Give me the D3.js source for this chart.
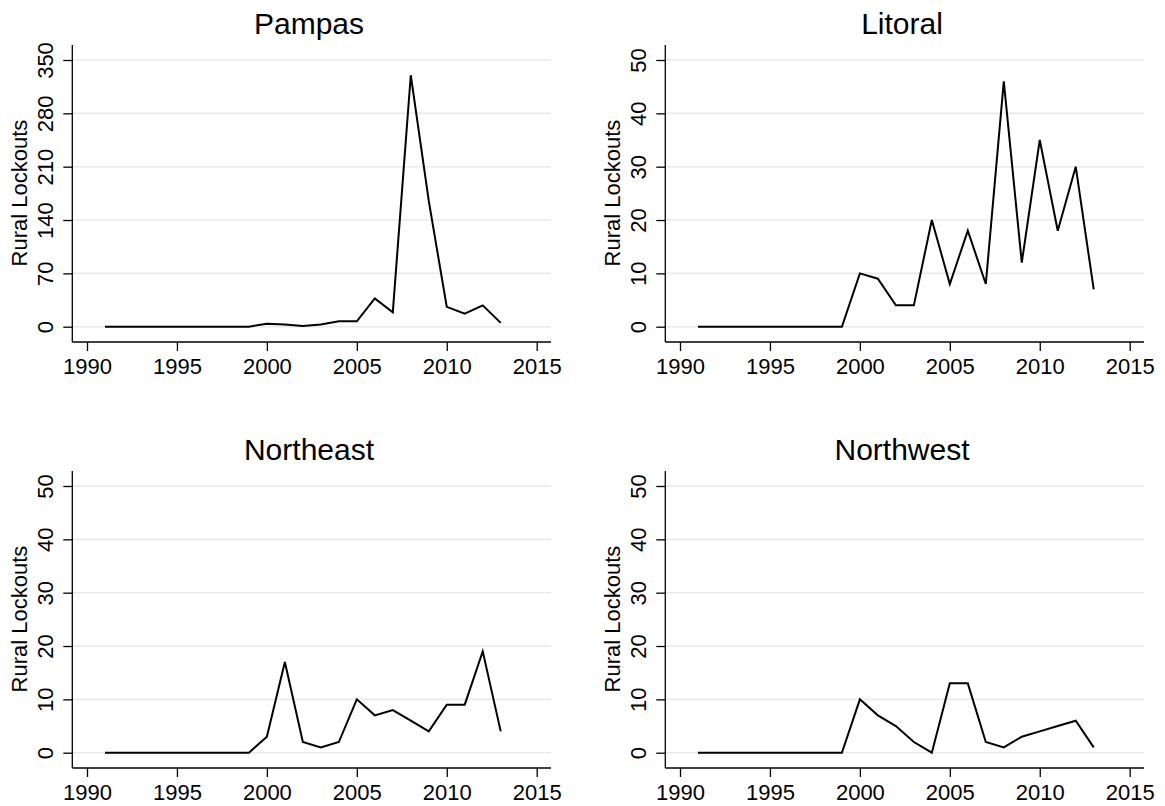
<!DOCTYPE html>
<meta charset="utf-8">
<style>
body { margin: 0; background: #fff; }
svg text { font-family: "Liberation Sans", Arial, Helvetica, sans-serif; fill: #000; }
</style>
<body>
<script src="https://d3js.org/d3.v7.min.js"></script>
<script>

var width = 1165,
    height = 806;

// data
var years = [1991, 1992, 1993, 1994, 1995, 1996, 1997, 1998, 1999, 2000, 2001, 2002,
             2003, 2004, 2005, 2006, 2007, 2008, 2009, 2010, 2011, 2012, 2013];
var pampas    = [0, 0, 0, 0, 0, 0, 0, 0, 0, 4, 3, 1, 3, 7, 7, 37, 19, 330, 165, 26, 17, 28, 5];
var litoral   = [0, 0, 0, 0, 0, 0, 0, 0, 0, 10, 9, 4, 4, 20, 8, 18, 8, 46, 12, 35, 18, 30, 7];
var northeast = [0, 0, 0, 0, 0, 0, 0, 0, 0, 3, 17, 2, 1, 2, 10, 7, 8, 6, 4, 9, 9, 19, 4];
var northwest = [0, 0, 0, 0, 0, 0, 0, 0, 0, 10, 7, 5, 2, 0, 13, 13, 2, 1, 3, 4, 5, 6, 1];

var regionNames = ["Pampas", "Litoral", "Northeast", "Northwest"];
var regionValues = [pampas, litoral, northeast, northwest];
var pampasTicks = [0, 70, 140, 210, 280, 350];
var smallTicks = [0, 10, 20, 30, 40, 50];
var yearTicks = [1990, 1995, 2000, 2005, 2010, 2015];
var yTitle = "Rural Lockouts";

var svg = d3.select("body").append("svg")
    .attr("width", width)
    .attr("height", height);

// panel geometry
var offX = [0, 593, 0, 593],
    offY = [0, 0, 426, 426];
var left = 72.3, right = 551, axisTop = 45, axisBottom = 342;

var x = d3.scaleLinear()
    .domain([1990, 2015])
    .range([87, 536.7]);

regionNames.forEach(function(name, i) {
  var ticks = i == 0 ? pampasTicks : smallTicks;
  var y = d3.scaleLinear()
      .domain([0, ticks[ticks.length - 1]])
      .range([326.7, 60]);

  var g = svg.append("g")
      .attr("transform", "translate(" + offX[i] + "," + offY[i] + ")");

  // gridlines
  g.append("g").selectAll("line")
      .data(ticks)
      .enter().append("line")
      .attr("x1", left).attr("x2", right)
      .attr("y1", function(d) { return y(d); })
      .attr("y2", function(d) { return y(d); })
      .style("stroke", "#eaeaea")
      .style("stroke-width", 1.6);

  // y axis
  var ya = g.append("g")
      .attr("transform", "translate(" + left + ",0)")
      .call(d3.axisLeft(y).tickValues(ticks).tickSize(9).tickSizeOuter(0));
  ya.select(".domain").remove();
  ya.selectAll("line").style("stroke", "#000").style("stroke-width", 1.3);
  ya.selectAll("text")
      .attr("x", null).attr("dy", null)
      .attr("transform", "translate(-19,0) rotate(-90)")
      .style("text-anchor", "middle")
      .style("font-size", "22px");
  g.append("line")
      .attr("x1", left).attr("x2", left)
      .attr("y1", axisTop).attr("y2", axisBottom)
      .style("stroke", "#000").style("stroke-width", 1.3);

  // x axis
  var xa = g.append("g")
      .attr("transform", "translate(0," + axisBottom + ")")
      .call(d3.axisBottom(x).tickValues(yearTicks).tickFormat(d3.format("d")).tickSize(9).tickSizeOuter(0));
  xa.select(".domain").remove();
  xa.selectAll("line").style("stroke", "#000").style("stroke-width", 1.3);
  xa.selectAll("text")
      .attr("y", 32).attr("dy", null)
      .style("font-size", "22px");
  g.append("line")
      .attr("x1", left).attr("x2", right)
      .attr("y1", axisBottom).attr("y2", axisBottom)
      .style("stroke", "#000").style("stroke-width", 1.3);

  // the series
  var line = d3.line()
      .x(function(d, j) { return x(years[j]); })
      .y(function(d) { return y(d); });
  g.append("path")
      .datum(regionValues[i])
      .attr("d", line)
      .style("fill", "none")
      .style("stroke", "#000")
      .style("stroke-width", 2);

  // titles
  g.append("text")
      .attr("x", 309).attr("y", 33.5)
      .style("text-anchor", "middle")
      .style("font-size", "30px")
      .text(name);
  g.append("text")
      .attr("transform", "translate(27," + 193 + ") rotate(-90)")
      .style("text-anchor", "middle")
      .style("font-size", "22px")
      .text(yTitle);
});

</script>
